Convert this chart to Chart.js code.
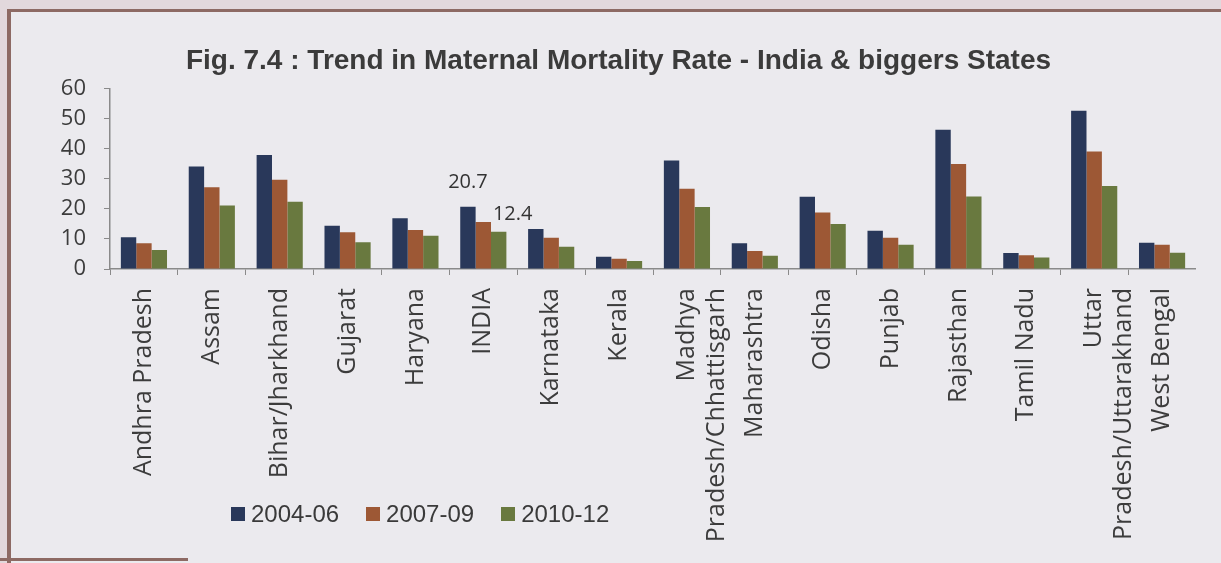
<!DOCTYPE html>
<html>
<head>
<meta charset="utf-8">
<title>Maternal Mortality Rate</title>
<script src="https://cdn.jsdelivr.net/npm/chart.js@4.4.1/dist/chart.umd.min.js"></script>
<style>
  html, body { margin: 0; padding: 0; width: 1221px; height: 563px; overflow: hidden; background: #e2d8dc; }
  #frame {
    position: absolute; left: 7px; top: 9px; right: 0; bottom: 0;
    background: #ebeaee;
    border-left: 4px solid #8d6a64;
    border-top: 3px solid #8d6a64;
  }
  #bottomEdge { position: absolute; left: 0; bottom: 2px; width: 188px; height: 3px; background: #8d6a64; }
  /* canvas sits so the title centres over the plot like the printed figure */
  #chartBox { position: absolute; left: 41px; top: 0; width: 1155px; height: 563px; overflow: visible; }
  #legend {
    position: absolute; left: 231px; top: 500px;
    display: flex; align-items: center;
    font-family: 'Liberation Sans', Arial, sans-serif;
    font-size: 24px; color: #3a3a3a;
  }
  #legend .item { display: flex; align-items: center; margin-right: 27px; }
  #legend .swatch { width: 14px; height: 14px; margin-right: 6px; }
</style>
</head>
<body>
<div id="frame"></div>
<div id="bottomEdge"></div>
<div id="chartBox"><canvas id="mmrChart" width="1155" height="563"></canvas></div>
<div id="legend"></div>

<script>
const states = [
  'Andhra Pradesh', 'Assam', 'Bihar/Jharkhand', 'Gujarat', 'Haryana', 'INDIA',
  'Karnataka', 'Kerala', ['Madhya', 'Pradesh/Chhattisgarh'], 'Maharashtra',
  'Odisha', 'Punjab', 'Rajasthan', 'Tamil Nadu', ['Uttar', 'Pradesh/Uttarakhand'],
  'West Bengal'
];
const periods = ['2004-06', '2007-09', '2010-12'];
const mmr2004 = [10.6, 34.1, 37.9, 14.4, 16.9, 20.7, 13.3, 4.1, 36.1, 8.6, 24.0, 12.7, 46.3, 5.3, 52.6, 8.7];
const mmr2007 = [8.6, 27.2, 29.7, 12.2, 13.0, 15.6, 10.4, 3.4, 26.7, 6.0, 18.8, 10.4, 34.9, 4.6, 39.1, 8.1];
const mmr2010 = [6.3, 21.1, 22.4, 8.9, 11.1, 12.4, 7.4, 2.7, 20.6, 4.4, 15.0, 8.1, 24.1, 3.8, 27.6, 5.4];
const yTicks = [0, 10, 20, 30, 40, 50, 60];

const barColors = ['#29385a', '#9d5835', '#69793f'];
const seriesValues = [mmr2004, mmr2007, mmr2010];

// only the INDIA bars for 2004-06 and 2010-12 carry a value label
const labelledBars = [
  { series: 0, index: 5, dx: 0, dy: -24 },
  { series: 2, index: 5, dx: 14, dy: -17 }
];

const tickColor = '#3c3c3c';
const axisGray = '#8a8a8a';

const valueLabels = {
  id: 'valueLabels',
  afterDatasetsDraw(chart) {
    const ctx = chart.ctx;
    ctx.save();
    ctx.font = "20px 'Open Sans', sans-serif";
    ctx.fillStyle = '#333333';
    ctx.textAlign = 'center';
    ctx.textBaseline = 'middle';
    labelledBars.forEach(l => {
      const bar = chart.getDatasetMeta(l.series).data[l.index];
      const v = seriesValues[l.series][l.index];
      ctx.fillText(v.toFixed(1), bar.x + l.dx, bar.y + l.dy);
    });
    ctx.restore();
  }
};

const chart = new Chart(document.getElementById('mmrChart'), {
  type: 'bar',
  data: {
    labels: states,
    datasets: periods.map((p, i) => ({
      label: p,
      data: seriesValues[i],
      backgroundColor: barColors[i],
      borderWidth: 0,
      categoryPercentage: 0.68,
      barPercentage: 1.0
    }))
  },
  options: {
    responsive: false,
    animation: false,
    layout: { padding: 0 },
    plugins: {
      legend: { display: false },
      tooltip: { enabled: false },
      title: {
        display: true,
        text: 'Fig. 7.4 : Trend in Maternal Mortality Rate - India & biggers States',
        color: '#3b3b3b',
        font: { family: "'Liberation Sans', Arial, sans-serif", size: 28, weight: 'bold' },
        padding: { top: 44, bottom: 11 }
      }
    },
    scales: {
      x: {
        grid: { display: true, drawOnChartArea: false, drawTicks: true, tickLength: 6, color: axisGray, offset: true },
        border: { display: true, color: axisGray, width: 1.5 },
        ticks: {
          autoSkip: false, maxRotation: 90, minRotation: 90,
          font: { family: "'Open Sans', sans-serif", size: 25 },
          color: tickColor, padding: 13
        },
        afterFit(scale) {
          scale.height = 294;
          // let the axis run to the canvas edge, the last label is narrow enough
          scale.paddingRight = 0;
          scale.paddingLeft = 0;
        }
      },
      y: {
        min: 0, max: 60,
        grid: { display: true, drawOnChartArea: false, drawTicks: true, tickLength: 6, color: axisGray },
        border: { display: true, color: axisGray, width: 1.5 },
        ticks: { font: { family: "'Open Sans', sans-serif", size: 22 }, color: tickColor, padding: 18 },
        afterBuildTicks(scale) { scale.ticks = yTicks.map(v => ({ value: v })); },
        afterFit(scale) { scale.width = 69; }
      }
    }
  },
  plugins: [valueLabels]
});

// legend row built from the datasets
const legendEl = document.getElementById('legend');
chart.data.datasets.forEach(ds => {
  const item = document.createElement('div');
  item.className = 'item';
  const sw = document.createElement('span');
  sw.className = 'swatch';
  sw.style.background = ds.backgroundColor;
  const txt = document.createElement('span');
  txt.textContent = ds.label;
  item.appendChild(sw);
  item.appendChild(txt);
  legendEl.appendChild(item);
});
</script>
</body>
</html>
